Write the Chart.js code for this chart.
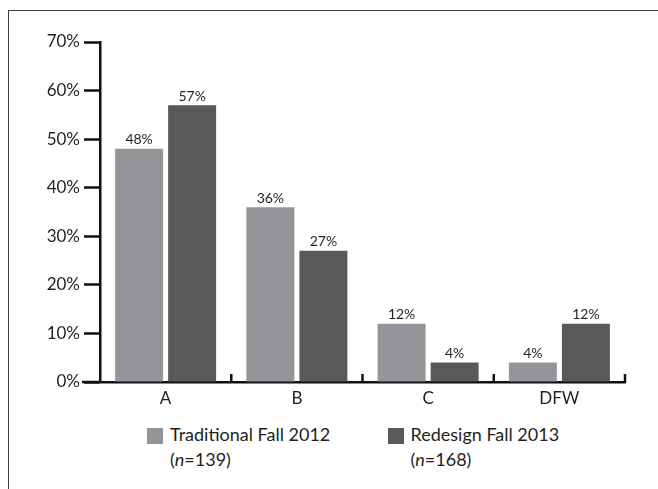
<!DOCTYPE html>
<html>
<head>
<meta charset="utf-8">
<script src="https://cdn.jsdelivr.net/npm/chart.js@4"></script>
<style>
  html, body { margin: 0; padding: 0; background: #fff; overflow: hidden; }
  body { width: 658px; height: 489px; position: relative; font-family: Lato, "Open Sans", sans-serif; color: #231f20; }
  #frame { position: absolute; left: 8px; top: 10px; width: 800px; height: 600px; border: 1px solid #3c3c3c; }
  #chart { position: absolute; left: 0; top: 0; }
  .legend-item { position: absolute; top: 422px; font-size: 18px; line-height: 25px; }
  .legend-item .swatch { position: absolute; top: 6px; width: 16px; height: 16px; }
  .legend-item .txt { position: absolute; white-space: nowrap; }
</style>
</head>
<body>
<div id="frame"></div>
<canvas id="chart" width="658" height="420"></canvas>
<div id="legend"></div>
<script>
const categories = ["A", "B", "C", "DFW"];
const traditional = [48, 36, 12, 4];
const redesign = [57, 27, 4, 12];
const seriesLabels = ["Traditional Fall 2012", "Redesign Fall 2013"];
const sampleSizes = [139, 168];
const yTicks = [0, 10, 20, 30, 40, 50, 60, 70];

const LIGHT = "#939598";
const DARK = "#58595b";
const AXIS = "#111111";
const TEXT = "#231f20";

// short inside ticks between categories and the axis stub left of 0%
const axisExtras = {
  id: "axisExtras",
  afterDraw(chart) {
    const { ctx, chartArea, scales } = chart;
    const x = scales.x;
    const y0 = chartArea.bottom;
    const step = x.width / categories.length;
    ctx.save();
    ctx.strokeStyle = AXIS;
    ctx.lineWidth = 2.5;
    ctx.beginPath();
    ctx.moveTo(chartArea.left - 18, y0);
    ctx.lineTo(chartArea.left, y0);
    for (let i = 0; i < categories.length; i++) {
      const xr = x.getPixelForValue(i) + step / 2;
      ctx.moveTo(xr, y0 + 1);
      ctx.lineTo(xr, y0 - 8);
    }
    ctx.stroke();
    ctx.restore();
  }
};

// value labels above bars
const barLabels = {
  id: "barLabels",
  afterDatasetsDraw(chart) {
    const ctx = chart.ctx;
    ctx.save();
    ctx.font = "14px Lato";
    ctx.fillStyle = TEXT;
    ctx.textAlign = "center";
    ctx.textBaseline = "alphabetic";
    chart.data.datasets.forEach((ds, i) => {
      chart.getDatasetMeta(i).data.forEach((bar, j) => {
        ctx.fillText(ds.data[j] + "%", bar.x, bar.y - 4.5);
      });
    });
    ctx.restore();
  }
};

new Chart(document.getElementById("chart"), {
  type: "bar",
  data: {
    labels: categories,
    datasets: [
      { label: seriesLabels[0], data: traditional, backgroundColor: LIGHT },
      { label: seriesLabels[1], data: redesign, backgroundColor: DARK }
    ]
  },
  options: {
    responsive: false,
    devicePixelRatio: 1,
    animation: false,
    barPercentage: 0.905,
    categoryPercentage: 0.808,
    layout: { padding: { top: 42, right: 33, left: 0, bottom: 0 } },
    plugins: { legend: { display: false }, tooltip: { enabled: false } },
    scales: {
      x: {
        afterFit: s => { s.height = 38; },
        grid: { display: true, drawOnChartArea: false, drawTicks: false },
        border: { display: true, color: AXIS, width: 2.5 },
        ticks: { color: TEXT, font: { family: "Lato", size: 17 }, padding: 6 }
      },
      y: {
        min: 0,
        max: 70,
        afterFit: s => { s.width = 100; },
        afterBuildTicks: s => { s.ticks = yTicks.map(v => ({ value: v })); },
        grid: { drawOnChartArea: false, drawTicks: true, tickLength: 16, tickColor: AXIS, tickWidth: 2.5, color: AXIS },
        border: { display: true, color: AXIS, width: 2.5 },
        ticks: { color: TEXT, font: { family: "Lato", size: 17 }, padding: 4, callback: v => v + "%" }
      }
    }
  },
  plugins: [axisExtras, barLabels]
});

// legend as text below the chart
const legendPos = [{ swatch: 146.5, text: 170 }, { swatch: 387.5, text: 410.5 }];
const swatchColors = [LIGHT, DARK];
const legend = document.getElementById("legend");
seriesLabels.forEach((label, i) => {
  const item = document.createElement("div");
  item.className = "legend-item";
  item.innerHTML =
    `<div class="swatch" style="left:${legendPos[i].swatch}px;background:${swatchColors[i]}"></div>` +
    `<div class="txt" style="left:${legendPos[i].text}px">${label}<br>(<i>n</i>=${sampleSizes[i]})</div>`;
  legend.appendChild(item);
});
</script>
</body>
</html>
